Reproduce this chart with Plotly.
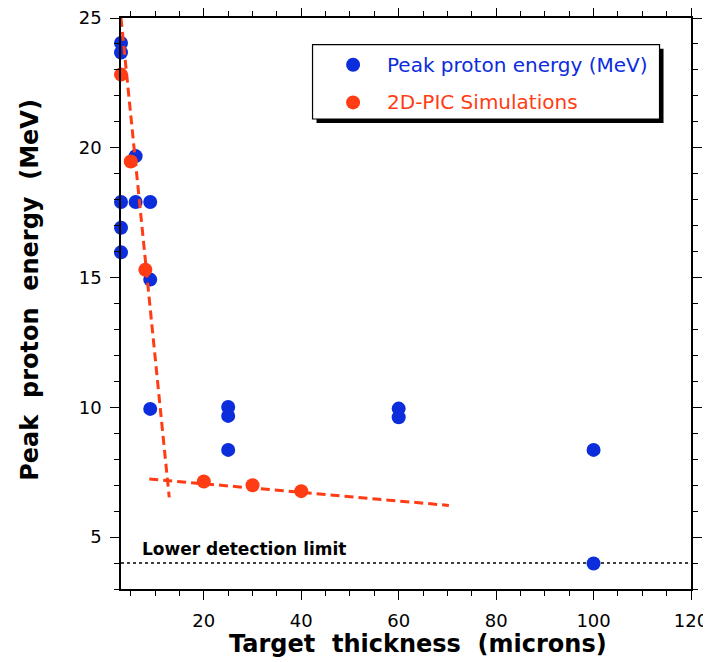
import plotly.graph_objects as go

# ---- data ----
exp_thickness = [3, 3, 3, 3, 3, 6, 6, 9, 9, 9, 25, 25, 25, 60, 60, 100, 100]
exp_energy = [24.04, 23.67, 17.91, 16.92, 15.97, 19.68, 17.91, 17.91, 14.92, 9.94,
              10.01, 9.67, 8.36, 9.95, 9.62, 8.36, 3.98]

sim_thickness = [3, 5, 8, 20, 30, 40]
sim_energy = [22.82, 19.47, 15.30, 7.14, 7.00, 6.77]

fit_thin_x = [3, 12.9]
fit_thin_y = [25.0, 6.53]
fit_thick_x = [8.8, 70.3]
fit_thick_y = [7.24, 6.22]

limit_x = [3, 120]
limit_y = [4, 4]

x_ticks = [20, 40, 60, 80, 100, 120]
y_ticks = [5, 10, 15, 20, 25]

BLUE = "#0B2DDB"
RED = "#FF3C14"
FONT = "DejaVu Sans"

fig = go.Figure()

fig.add_trace(go.Scatter(x=limit_x, y=limit_y, mode="lines",
                         line=dict(color="black", width=1.5, dash="3px,3px"),
                         showlegend=False, hoverinfo="skip"))
fig.add_trace(go.Scatter(x=exp_thickness, y=exp_energy, mode="markers",
                         marker=dict(color=BLUE, size=14, line=dict(width=0)),
                         cliponaxis=False, showlegend=False,
                         name="Peak proton energy (MeV)"))
fig.add_trace(go.Scatter(x=fit_thin_x, y=fit_thin_y, mode="lines",
                         line=dict(color=RED, width=3, dash="9px,5px"),
                         showlegend=False, hoverinfo="skip"))
fig.add_trace(go.Scatter(x=fit_thick_x, y=fit_thick_y, mode="lines",
                         line=dict(color=RED, width=3, dash="9px,5px"),
                         showlegend=False, hoverinfo="skip"))
fig.add_trace(go.Scatter(x=sim_thickness, y=sim_energy, mode="markers",
                         marker=dict(color=RED, size=14, line=dict(width=0)),
                         cliponaxis=False, showlegend=False,
                         name="2D-PIC Simulations"))

# page offset (browser body margin) and plot area in window pixels
OFF = 8
WIN_W, WIN_H = 711, 662
W, H = WIN_W - OFF, WIN_H - OFF
L, R, T, B = 121, 691.5, 18.3, 589.3
PW, PH = R - L, B - T


def px(xp):
    return (xp - L) / PW


def py(yp):
    return (B - yp) / PH


axis_common = dict(showline=True, linecolor="black", linewidth=1.5, mirror="ticks",
                   ticks="outside", ticklen=9, tickwidth=1.2, tickcolor="black",
                   showgrid=False, zeroline=False, automargin=False,
                   ticklabeloverflow="allow",
                   tickfont=dict(family=FONT, size=18, color="black"))

fig.update_xaxes(range=[3, 120], tickvals=x_ticks, ticklabelstandoff=6,
                 minor=dict(dtick=5, tick0=0, ticks="outside", ticklen=5,
                            tickwidth=1.2, tickcolor="black", showgrid=False),
                 **axis_common)
fig.update_yaxes(range=[3, 25], tickvals=y_ticks, ticklabelstandoff=5,
                 minor=dict(dtick=1, tick0=0, ticks="outside", ticklen=5,
                            tickwidth=1.2, tickcolor="black", showgrid=False),
                 **axis_common)

shapes = []
# legend shadow and box
shapes.append(dict(type="rect", xref="paper", yref="paper",
                   x0=px(316.7), x1=px(664), y0=py(123.3), y1=py(49),
                   fillcolor="black", line=dict(width=0), layer="above"))
shapes.append(dict(type="rect", xref="paper", yref="paper",
                   x0=px(312.7), x1=px(660), y0=py(119.3), y1=py(45),
                   fillcolor="white", line=dict(color="black", width=1.2), layer="above"))
for yy, col in [(65, BLUE), (102.7, RED)]:
    shapes.append(dict(type="circle", xref="paper", yref="paper",
                       xsizemode="pixel", ysizemode="pixel",
                       xanchor=px(353.3), yanchor=py(yy),
                       x0=-7, x1=7, y0=-7, y1=7,
                       fillcolor=col, line=dict(width=0), layer="above"))

annotations = [
    dict(text="Peak proton energy (MeV)", xref="paper", yref="paper",
         x=px(385), y=py(65), xanchor="left", yanchor="middle", showarrow=False,
         font=dict(family=FONT, size=20, color=BLUE)),
    dict(text="2D-PIC Simulations", xref="paper", yref="paper",
         x=px(385), y=py(102.7), xanchor="left", yanchor="middle", showarrow=False,
         font=dict(family=FONT, size=20, color=RED)),
    dict(text="<b>Lower detection limit</b>", xref="x", yref="y",
         x=7.0, y=4.56, xanchor="left", yanchor="middle", showarrow=False,
         font=dict(family=FONT, size=17, color="black")),
    dict(text="<b>Target\u00a0 thickness\u00a0 (microns)</b>", xref="paper", yref="paper",
         x=px(418), y=py(644), xanchor="center", yanchor="middle", showarrow=False,
         font=dict(family=FONT, size=24, color="black")),
    dict(text="<b>Peak\u00a0 proton\u00a0 energy\u00a0 (MeV)</b>", xref="paper", yref="paper",
         x=px(30), y=py(290), xanchor="center", yanchor="middle", showarrow=False,
         textangle=-90, font=dict(family=FONT, size=24, color="black")),
]

fig.update_layout(width=W, height=H,
                  margin=dict(l=L - OFF, r=WIN_W - R, t=T - OFF, b=WIN_H - B, pad=0),
                  paper_bgcolor="white", plot_bgcolor="white",
                  showlegend=False, shapes=shapes, annotations=annotations,
                  font=dict(family=FONT, color="black"))

fig.write_html("out.html")
